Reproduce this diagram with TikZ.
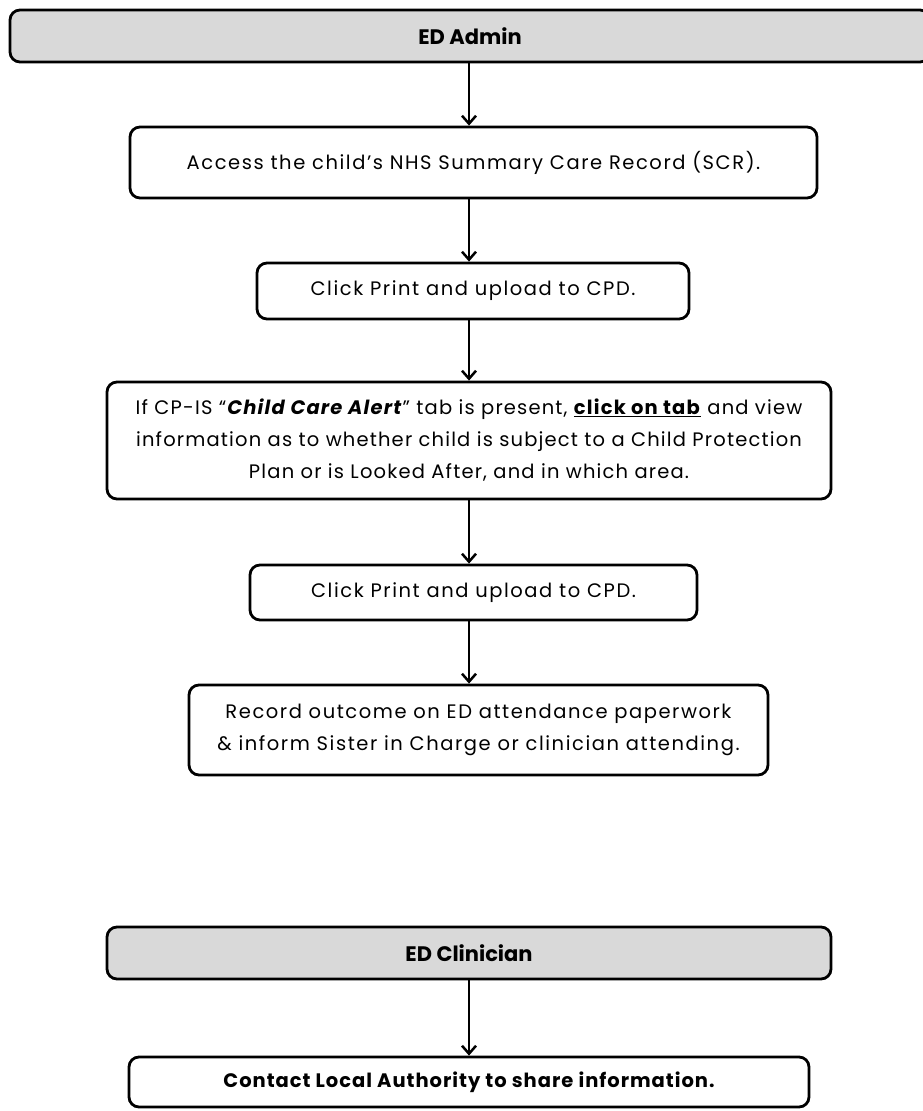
\documentclass[tikz,border=0pt]{standalone}
\usepackage{fontspec}
\setmainfont{Poppins}
\newfontfamily\bodyfont[LetterSpace=8]{Poppins}
\newfontfamily\cpisfont[LetterSpace=6]{Poppins}
\newfontfamily\contactfont[LetterSpace=5]{Poppins}
\usetikzlibrary{arrows.meta}
\begin{document}
\begin{tikzpicture}[x=1pt,y=-1pt,
  box/.style={draw=black, line width=2.8pt, rounded corners=10pt, fill=white, inner sep=0pt, align=center, font=\bodyfont\fontsize{19.5}{32}\selectfont},
  head/.style={box, fill=gray!30, font=\bfseries\fontsize{21}{24}\selectfont},
  arr/.style={line width=2.5pt, -{Straight Barb[length=8pt,width=14pt,line width=2.5pt]}}]
\useasboundingbox (0,0) rectangle (923,1111);
\begin{scope}
\clip (0,0) rectangle (923,1111);
\node[head, minimum width=920pt, minimum height=52pt] (admin) at (470,36) {ED Admin};
\node[box, minimum width=687pt, minimum height=71pt] (scr) at (473.5,162.5) {Access the child’s NHS Summary Care Record (SCR).};
\node[box, minimum width=432pt, minimum height=56pt] (print1) at (473,291) {Click Print and upload to CPD.};
\node[box, minimum width=724pt, minimum height=117pt, font=\cpisfont\fontsize{19.5}{32}\selectfont] (cpis) at (469,440.5) {If CP-IS “\textbf{\textit{Child Care Alert}}” tab is present, \underline{\textbf{click on tab}} and view\\ information as to whether child is subject to a Child Protection\\ Plan or is Looked After, and in which area.};
\node[box, minimum width=447pt, minimum height=55pt] (print2) at (473.5,592.5) {Click Print and upload to CPD.};
\node[box, minimum width=579pt, minimum height=90pt] (record) at (478.5,730) {Record outcome on ED attendance paperwork\\ \& inform Sister in Charge or clinician attending.};
\node[head, minimum width=724pt, minimum height=52pt] (clin) at (469,953) {ED Clinician};
\node[box, minimum width=680pt, minimum height=50pt, font=\contactfont\bfseries\fontsize{19.5}{22}\selectfont] (contact) at (469,1082) {Contact Local Authority to share information.};
\end{scope}
\draw[arr] (admin.south -| 469,0) -- (scr.north -| 469,0);
\draw[arr] (scr.south -| 469,0) -- (print1.north -| 469,0);
\draw[arr] (print1.south -| 469,0) -- (cpis.north -| 469,0);
\draw[arr] (cpis.south -| 469,0) -- (print2.north -| 469,0);
\draw[arr] (print2.south -| 469,0) -- (record.north -| 469,0);
\draw[arr] (clin.south -| 469,0) -- (contact.north -| 469,0);
\end{tikzpicture}
\end{document}
